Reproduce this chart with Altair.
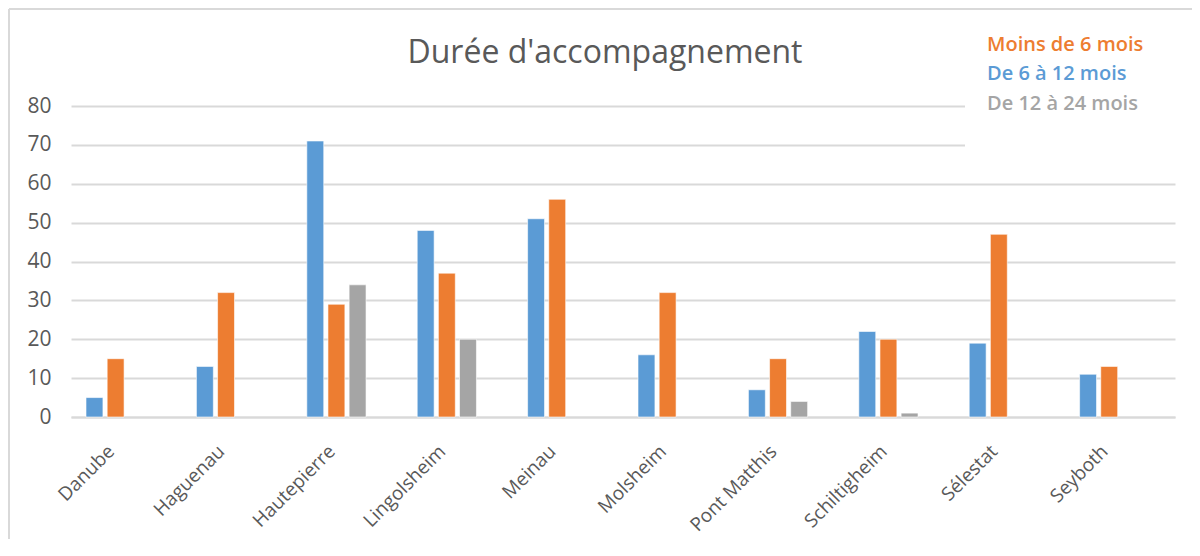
import altair as alt
import pandas as pd

categories = ["Danube", "Haguenau", "Hautepierre", "Lingolsheim", "Meinau",
              "Molsheim", "Pont Matthis", "Schiltigheim", "Sélestat", "Seyboth"]
series = ["De 6 à 12 mois", "Moins de 6 mois", "De 12 à 24 mois"]
de_6_a_12 = [5, 13, 71, 48, 51, 16, 7, 22, 19, 11]
moins_de_6 = [15, 32, 29, 37, 56, 32, 15, 20, 47, 13]
de_12_a_24 = [None, None, 34, 20, None, None, 4, 1, None, None]
colors = ["#5B9BD5", "#ED7D31", "#A5A5A5"]
y_ticks = [0, 10, 20, 30, 40, 50, 60, 70, 80]

rows = []
for s, vals in zip(series, [de_6_a_12, moins_de_6, de_12_a_24]):
    for c, v in zip(categories, vals):
        if v is not None:
            rows.append({"site": c, "serie": s, "valeur": v})
df = pd.DataFrame(rows)

FONT = "Open Sans"
GREY = "#595959"

bars = alt.Chart(df).mark_bar(stroke="white", strokeWidth=0.6).encode(
    x=alt.X("site:N", sort=categories,
            scale=alt.Scale(paddingInner=0.272, paddingOuter=0.136),
            axis=alt.Axis(title=None, labelAngle=-45, labelAlign="right",
                          labelBaseline="middle", labelPadding=31, labelOffset=-15,
                          labelFontSize=19, labelColor=GREY, labelFont=FONT,
                          ticks=False, domainColor="#D9D9D9", domainWidth=2)),
    xOffset=alt.XOffset("serie:N",
                        scale=alt.Scale(domain=series + ["_"], paddingInner=0.2)),
    y=alt.Y("valeur:Q", scale=alt.Scale(domain=[0, 80], nice=False),
            axis=alt.Axis(title=None, values=y_ticks, grid=True,
                          gridColor="#D9D9D9", gridWidth=2, domain=False,
                          ticks=False, labelFontSize=21, labelColor=GREY,
                          labelFont=FONT, labelPadding=20)),
    color=alt.Color("serie:N", scale=alt.Scale(domain=series, range=colors),
                    legend=None),
)

one = pd.DataFrame({"a": [0]})

legend_bg = alt.Chart(one).mark_rect(color="white").encode(
    x=alt.value(894), x2=alt.value(1110), y=alt.value(-96), y2=alt.value(58))

top_border = alt.Chart(one).mark_rule(color="#D9D9D9", strokeWidth=2).encode(
    x=alt.value(-62), x2=alt.value(1121), y=alt.value(-97))
left_border = alt.Chart(one).mark_rule(color="#D9D9D9", strokeWidth=2).encode(
    x=alt.value(-62), y=alt.value(-97), y2=alt.value(440))

title = alt.Chart(pd.DataFrame({"t": ["Durée d'accompagnement"]})).mark_text(
    font=FONT, fontSize=32, color=GREY, align="center", baseline="middle").encode(
    text="t:N", x=alt.value(534), y=alt.value(-53))

legend_order = ["Moins de 6 mois", "De 6 à 12 mois", "De 12 à 24 mois"]
legend_colors = ["#ED7D31", "#5B9BD5", "#A5A5A5"]
legend_y = [-61, -32, -2]
legend_layers = []
for name, col, yy in zip(legend_order, legend_colors, legend_y):
    legend_layers.append(
        alt.Chart(pd.DataFrame({"t": [name]})).mark_text(
            font=FONT, fontSize=20, fontWeight=600, color=col,
            align="left", baseline="middle").encode(
            text="t:N", x=alt.value(916), y=alt.value(yy)))

chart = alt.layer(bars, legend_bg, top_border, left_border, title, *legend_layers).properties(
    width=1104, height=311,
    padding={"left": 63, "top": 98, "right": 17, "bottom": 122},
    autosize=alt.AutoSizeParams(type="none"),
).configure(background="white").configure_view(stroke=None)

chart.save("out.html", embed_options={"renderer": "svg", "actions": False})
